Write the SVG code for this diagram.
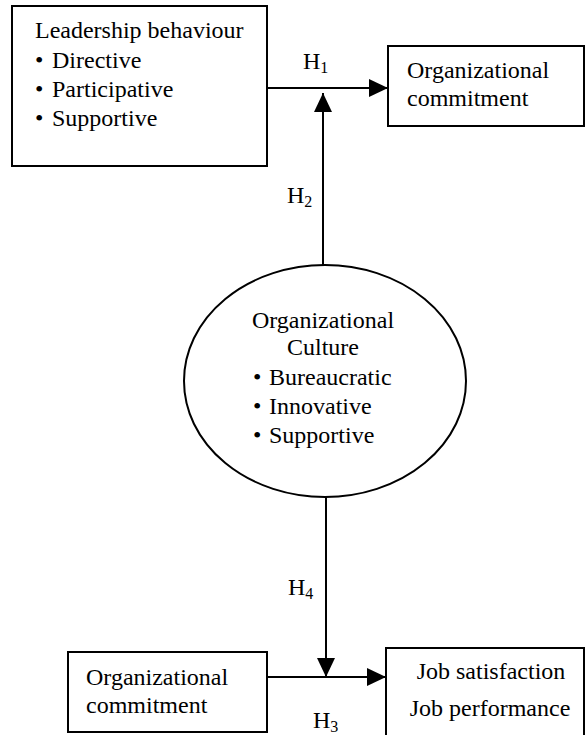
<svg xmlns="http://www.w3.org/2000/svg" width="585" height="735" viewBox="0 0 585 735">
<style>
text{font-family:"Liberation Serif","Times New Roman","DejaVu Serif",serif;font-size:24px;fill:#000}
.sub{font-size:16px}
.node{fill:#fff;stroke:#000;stroke-width:2}
.conn{fill:none;stroke:#000;stroke-width:2}
.mid{text-anchor:middle}
</style>
<defs>
<marker id="arrow" markerUnits="userSpaceOnUse" markerWidth="19" markerHeight="18" refX="19" refY="9" orient="auto">
<path d="M0,0 L19,9 L0,18 z" fill="#000"/>
</marker>
</defs>
<rect width="585" height="735" fill="#fff"/>
<g id="leadership">
<rect class="node" x="12" y="6" width="255" height="160"/>
<text x="35" y="38">Leadership behaviour</text>
<text x="35" y="68">•<tspan x="52">Directive</tspan></text>
<text x="35" y="97">•<tspan x="52">Participative</tspan></text>
<text x="35" y="126">•<tspan x="52">Supportive</tspan></text>
</g>
<g id="commitment-top">
<rect class="node" x="388" y="46" width="196" height="80"/>
<text x="407" y="78">Organizational</text>
<text x="407" y="106">commitment</text>
</g>
<g id="culture">
<ellipse class="node" cx="325" cy="381" rx="141" ry="116"/>
<text class="mid" x="323" y="328">Organizational</text>
<text class="mid" x="323" y="355">Culture</text>
<text x="253" y="385">•<tspan x="269">Bureaucratic</tspan></text>
<text x="253" y="414">•<tspan x="269">Innovative</tspan></text>
<text x="253" y="443">•<tspan x="269">Supportive</tspan></text>
</g>
<g id="commitment-bottom">
<rect class="node" x="68" y="652" width="199" height="80"/>
<text x="86" y="685">Organizational</text>
<text x="86" y="713">commitment</text>
</g>
<g id="outcomes">
<rect class="node" x="386" y="648" width="198" height="100"/>
<text class="mid" x="491" y="679">Job satisfaction</text>
<text class="mid" x="490" y="716">Job performance</text>
</g>
<g id="connectors">
<line class="conn" x1="267" y1="88" x2="388" y2="88" marker-end="url(#arrow)"/>
<line class="conn" x1="323" y1="265" x2="323" y2="93" marker-end="url(#arrow)"/>
<line class="conn" x1="267" y1="677" x2="386" y2="677" marker-end="url(#arrow)"/>
<line class="conn" x1="326" y1="497" x2="326" y2="677" marker-end="url(#arrow)"/>
<text x="303" y="69">H<tspan class="sub" dy="4">1</tspan></text>
<text x="287" y="203">H<tspan class="sub" dy="4">2</tspan></text>
<text x="313" y="728">H<tspan class="sub" dy="4">3</tspan></text>
<text x="288" y="595">H<tspan class="sub" dy="4">4</tspan></text>
</g>
</svg>
